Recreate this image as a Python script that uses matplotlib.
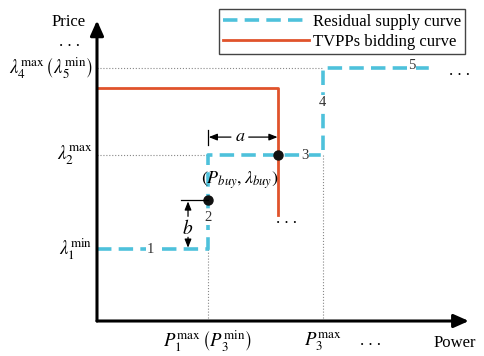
import matplotlib.pyplot as plt
from matplotlib.lines import Line2D

plt.rcParams['font.family'] = ['Liberation Serif', 'DejaVu Serif']
plt.rcParams['mathtext.fontset'] = 'stix'

# step curve of residual supply (power, price)
supply_x = [0, 3.0, 3.0, 6.1, 6.1, 9.1]
supply_y = [2.4, 2.4, 5.55, 5.55, 8.45, 8.45]
# TVPP bidding curve
bid_x = [0, 4.9, 4.9]
bid_y = [7.8, 7.8, 3.55]
# key points
buy_pt = (4.9, 5.55)
b_pt = (3.0, 4.05)
seg_labels = ['1', '2', '3', '4', '5']
seg_pos = [(1.45, 2.4), (3.0, 3.45), (5.62, 5.55), (6.1, 7.3), (8.5, 8.55)]
ytick_vals = [2.4, 5.55, 8.45]
ytick_labels = [r'$\lambda_1^{\mathrm{min}}$', r'$\lambda_2^{\mathrm{max}}$',
                r'$\lambda_4^{\mathrm{max}}\,\left(\lambda_5^{\mathrm{min}}\right)$']
xtick_vals = [3.0, 6.1]
xtick_labels = [r'$P_1^{\mathrm{max}}\,\left(P_3^{\mathrm{min}}\right)$', r'$P_3^{\mathrm{max}}$']

cyan = '#4EC1DB'
red = '#E0532B'

fig = plt.figure(figsize=(4.84, 3.56), dpi=100)
ax = fig.add_axes([0.2004, 0.0983, 0.7645, 0.84])
ax.set_xlim(0, 10)
ax.set_ylim(0, 10)
ax.axis('off')

# guide lines
gc = '#888888'
ax.plot([0, 6.1], [8.45, 8.45], ls=':', color=gc, lw=0.8)
ax.plot([0, 3.0], [5.55, 5.55], ls=':', color=gc, lw=0.8)
ax.plot([3.0, 3.0], [0, 2.4], ls=':', color=gc, lw=0.8)
ax.plot([6.1, 6.1], [0, 5.55], ls=':', color=gc, lw=0.8)

ax.plot(supply_x, supply_y, color=cyan, lw=2.6, dashes=(4, 2))
ax.plot(bid_x, bid_y, color=red, lw=2.0)

for lab, (px, py) in zip(seg_labels, seg_pos):
    ax.text(px, py, lab, ha='center', va='center', fontsize=10.5, color='#333333',
            bbox=dict(fc='white', ec='none', pad=0.5))
ax.text(9.8, 8.35, '. . .', ha='center', va='center', fontsize=12)
ax.text(5.13, 3.4, '. . .', ha='center', va='center', fontsize=12)

ax.plot(*buy_pt, 'o', color='#111111', ms=6.5)
ax.plot(*b_pt, 'o', color='#111111', ms=6.5)

# axes with arrows
arr = dict(arrowstyle='-|>,head_width=0.4,head_length=0.9', color='black', lw=2.2,
           shrinkA=0, shrinkB=0)
ax.annotate('', xy=(0, 10.05), xytext=(0, 0), arrowprops=arr, annotation_clip=False)
ax.annotate('', xy=(10.05, 0), xytext=(0, 0), arrowprops=arr, annotation_clip=False)

# annotation a
small = dict(arrowstyle='-|>,head_width=0.2,head_length=0.5', color='black', lw=0.9,
             shrinkA=0, shrinkB=0)
ax.plot([3.0, 3.0], [5.9, 6.4], color='black', lw=0.9)
ax.annotate('', xy=(3.02, 6.15), xytext=(3.62, 6.15), arrowprops=small)
ax.annotate('', xy=(4.88, 6.15), xytext=(4.1, 6.15), arrowprops=small)
ax.text(3.86, 6.17, r'$a$', ha='center', va='center', fontsize=13)

# annotation b
ax.plot([2.27, 3.0], [4.05, 4.05], color='black', lw=0.9)
ax.annotate('', xy=(2.46, 4.0), xytext=(2.46, 3.5), arrowprops=small)
ax.annotate('', xy=(2.46, 2.45), xytext=(2.46, 2.8), arrowprops=small)
ax.text(2.46, 3.1, r'$b$', ha='center', va='center', fontsize=14)

ax.text(3.86, 4.7, r'$\left(P_{buy},\lambda_{buy}\right)$', ha='center', va='center',
        fontsize=13)

# tick labels
for v, lab in zip(ytick_vals, ytick_labels):
    ax.text(-0.12, v, lab, ha='right', va='center', fontsize=13.5, clip_on=False)
ax.text(-0.75, 9.2, '. . .', ha='center', va='baseline', fontsize=12)
for v, lab in zip(xtick_vals, xtick_labels):
    ax.text(v, -0.68, lab, ha='center', va='center', fontsize=13.5, clip_on=False)
ax.text(7.38, -0.68, '. . .', ha='center', va='center', fontsize=12)
ax.text(-0.3, 10.0, 'Price', ha='right', va='center', fontsize=12)
ax.text(9.68, -0.75, 'Power', ha='center', va='center', fontsize=12)

handles = [Line2D([], [], color=cyan, lw=2.6, dashes=(4, 2)),
           Line2D([], [], color=red, lw=2.0)]
fig.legend(handles, ['Residual supply curve', 'TVPPs bidding curve'],
           loc='upper right', bbox_to_anchor=(0.978, 0.997), fontsize=12,
           handlelength=5.2, handletextpad=0.2, labelspacing=0.25,
           borderpad=0.25, fancybox=False, edgecolor='#444444', framealpha=1)

fig.savefig('out.png', dpi=100)
